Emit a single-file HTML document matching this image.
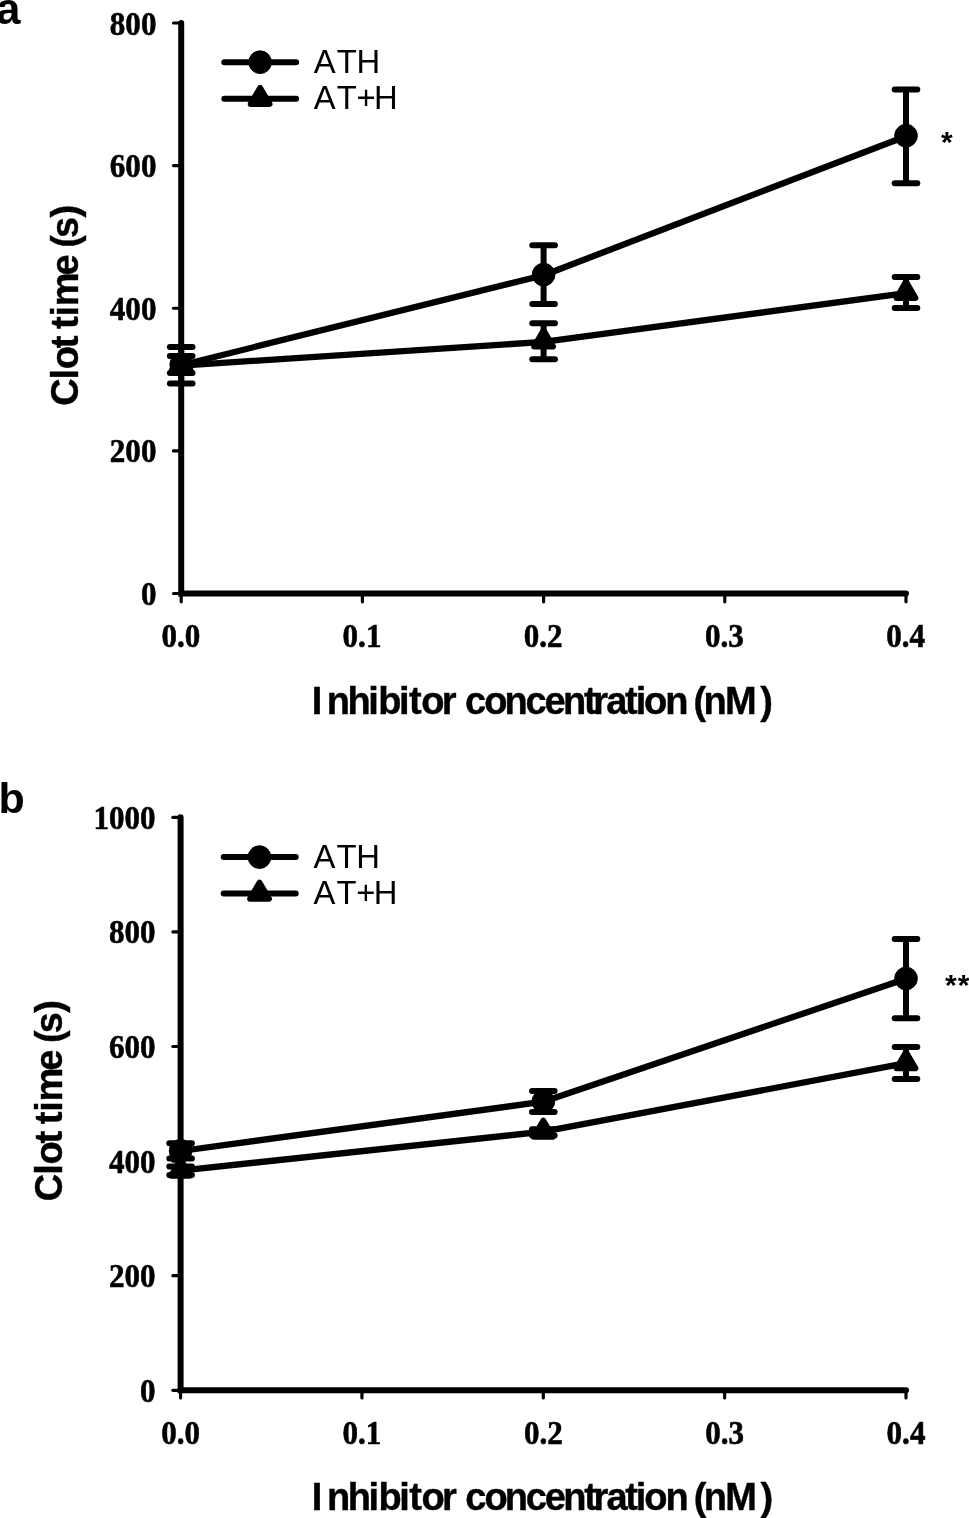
<!DOCTYPE html>
<html><head><meta charset="utf-8"><title>Clot time vs inhibitor concentration</title>
<style>
html,body{margin:0;padding:0;background:#fff;width:969px;height:1518px;overflow:hidden;}
svg{display:block;will-change:transform;}
text{fill:#000;stroke:none;font-kerning:none;}
.tk{font-family:"Liberation Serif", serif;font-weight:bold;font-size:33.2px;stroke:#000;stroke-width:0.6px;}
.lg{font-family:"Liberation Sans", sans-serif;font-size:32.8px;}
.tt{font-family:"Liberation Sans", sans-serif;font-weight:bold;font-size:38px;stroke:#000;stroke-width:0.4px;}
.pl{font-family:"Liberation Sans", sans-serif;font-weight:bold;}
.as{font-family:"Liberation Sans", sans-serif;font-weight:bold;font-size:30px;letter-spacing:1.2px;}
</style></head>
<body>
<svg width="969" height="1518" viewBox="0 0 969 1518">
<rect width="969" height="1518" fill="#fff"/>
<g fill="#000" stroke="#000">
<path d="M181.20,23.00 L181.20,593.50 L906.00,593.50" fill="none" stroke-width="6.0" stroke-linecap="round" stroke-linejoin="miter"/>
<line x1="173.50" y1="593.50" x2="181.20" y2="593.50" stroke-width="3.2" stroke-linecap="round"/>
<text class="tk" text-anchor="end" transform="translate(156.40,605.00) scale(0.935,1)">0</text>
<line x1="173.50" y1="450.90" x2="181.20" y2="450.90" stroke-width="3.2" stroke-linecap="round"/>
<text class="tk" text-anchor="end" transform="translate(156.40,462.40) scale(0.935,1)">200</text>
<line x1="173.50" y1="308.25" x2="181.20" y2="308.25" stroke-width="3.2" stroke-linecap="round"/>
<text class="tk" text-anchor="end" transform="translate(156.40,319.75) scale(0.935,1)">400</text>
<line x1="173.50" y1="165.60" x2="181.20" y2="165.60" stroke-width="3.2" stroke-linecap="round"/>
<text class="tk" text-anchor="end" transform="translate(156.40,177.10) scale(0.935,1)">600</text>
<line x1="173.50" y1="23.00" x2="181.20" y2="23.00" stroke-width="3.2" stroke-linecap="round"/>
<text class="tk" text-anchor="end" transform="translate(156.40,34.50) scale(0.935,1)">800</text>
<line x1="181.20" y1="593.50" x2="181.20" y2="601.80" stroke-width="3.2" stroke-linecap="round"/>
<text class="tk" text-anchor="middle" transform="translate(180.80,647.30) scale(0.935,1)">0.0</text>
<line x1="362.40" y1="593.50" x2="362.40" y2="601.80" stroke-width="3.2" stroke-linecap="round"/>
<text class="tk" text-anchor="middle" transform="translate(362.00,647.30) scale(0.935,1)">0.1</text>
<line x1="543.60" y1="593.50" x2="543.60" y2="601.80" stroke-width="3.2" stroke-linecap="round"/>
<text class="tk" text-anchor="middle" transform="translate(543.20,647.30) scale(0.935,1)">0.2</text>
<line x1="724.80" y1="593.50" x2="724.80" y2="601.80" stroke-width="3.2" stroke-linecap="round"/>
<text class="tk" text-anchor="middle" transform="translate(724.40,647.30) scale(0.935,1)">0.3</text>
<line x1="906.00" y1="593.50" x2="906.00" y2="601.80" stroke-width="3.2" stroke-linecap="round"/>
<text class="tk" text-anchor="middle" transform="translate(905.60,647.30) scale(0.935,1)">0.4</text>
<polyline points="181.20,365.60 543.60,341.90 906.00,293.20" fill="none" stroke-width="6.3" stroke-linejoin="round"/>
<polyline points="181.20,365.20 543.60,275.20 906.00,136.30" fill="none" stroke-width="6.3" stroke-linejoin="round"/>
<line x1="181.20" y1="356.00" x2="181.20" y2="373.10" stroke-width="6.0"/><line x1="169.90" y1="356.00" x2="192.50" y2="356.00" stroke-width="6.0" stroke-linecap="round"/><line x1="169.90" y1="373.10" x2="192.50" y2="373.10" stroke-width="6.0" stroke-linecap="round"/>
<line x1="543.60" y1="323.30" x2="543.60" y2="359.30" stroke-width="6.0"/><line x1="532.30" y1="323.30" x2="554.90" y2="323.30" stroke-width="6.0" stroke-linecap="round"/><line x1="532.30" y1="359.30" x2="554.90" y2="359.30" stroke-width="6.0" stroke-linecap="round"/>
<line x1="906.00" y1="277.10" x2="906.00" y2="308.10" stroke-width="6.0"/><line x1="894.70" y1="277.10" x2="917.30" y2="277.10" stroke-width="6.0" stroke-linecap="round"/><line x1="894.70" y1="308.10" x2="917.30" y2="308.10" stroke-width="6.0" stroke-linecap="round"/>
<line x1="181.20" y1="347.00" x2="181.20" y2="383.40" stroke-width="6.0"/><line x1="169.90" y1="347.00" x2="192.50" y2="347.00" stroke-width="6.0" stroke-linecap="round"/><line x1="169.90" y1="383.40" x2="192.50" y2="383.40" stroke-width="6.0" stroke-linecap="round"/>
<line x1="543.60" y1="245.30" x2="543.60" y2="304.10" stroke-width="6.0"/><line x1="532.30" y1="245.30" x2="554.90" y2="245.30" stroke-width="6.0" stroke-linecap="round"/><line x1="532.30" y1="304.10" x2="554.90" y2="304.10" stroke-width="6.0" stroke-linecap="round"/>
<line x1="906.00" y1="89.40" x2="906.00" y2="183.30" stroke-width="6.0"/><line x1="894.70" y1="89.40" x2="917.30" y2="89.40" stroke-width="6.0" stroke-linecap="round"/><line x1="894.70" y1="183.30" x2="917.30" y2="183.30" stroke-width="6.0" stroke-linecap="round"/>
<path d="M181.20,354.20 L190.60,370.30 L171.80,370.30 Z" stroke-width="6.0" stroke-linejoin="round"/>
<path d="M543.60,330.50 L553.00,346.60 L534.20,346.60 Z" stroke-width="6.0" stroke-linejoin="round"/>
<path d="M906.00,281.80 L915.40,297.90 L896.60,297.90 Z" stroke-width="6.0" stroke-linejoin="round"/>
<circle cx="181.20" cy="364.60" r="11.35"/>
<circle cx="543.60" cy="274.60" r="11.35"/>
<circle cx="906.00" cy="135.70" r="11.35"/>
<line x1="224.3" y1="62.2" x2="296.1" y2="62.2" stroke-width="6.0" stroke-linecap="round"/>
<circle cx="260.10" cy="62.20" r="11.35"/>
<line x1="224.3" y1="98.7" x2="296.1" y2="98.7" stroke-width="6.0" stroke-linecap="round"/>
<path d="M260.10,87.90 L269.50,104.00 L250.70,104.00 Z" stroke-width="6.0" stroke-linejoin="round"/>
<text class="lg" x="313.64 336.76 356.41" y="73.0">ATH</text>
<text class="lg" x="313.64 336.76 356.50 374.01" y="109.4">AT+H</text>
<text class="tt" x="311.66 326.80 347.45 368.25 378.20 398.95 409.04 421.32 441.70 456.70 465.02 484.22 504.60 525.52 544.62 563.00 584.04 593.20 606.19 625.04 635.65 644.12 665.20 680.20 693.51 703.60 724.96 760.36" y="714.4">Inhibitor concentration (nM)</text>
<text class="tt" transform="translate(78.3,404.6) rotate(-90)" x="-1.26 25.15 35.32 56.34 71.34 75.54 88.15 98.30 129.22 144.22 156.91 166.66 187.16" y="0">Clot time (s)</text>
<text class="pl" x="-3.9" y="23.7" font-size="44">a</text>
<text class="as" x="941" y="152.0">*</text>
<path d="M180.60,817.30 L180.60,1390.30 L906.00,1390.30" fill="none" stroke-width="6.0" stroke-linecap="round" stroke-linejoin="miter"/>
<line x1="172.90" y1="1390.30" x2="180.60" y2="1390.30" stroke-width="3.2" stroke-linecap="round"/>
<text class="tk" text-anchor="end" transform="translate(155.50,1401.80) scale(0.935,1)">0</text>
<line x1="172.90" y1="1275.70" x2="180.60" y2="1275.70" stroke-width="3.2" stroke-linecap="round"/>
<text class="tk" text-anchor="end" transform="translate(155.50,1287.20) scale(0.935,1)">200</text>
<line x1="172.90" y1="1161.10" x2="180.60" y2="1161.10" stroke-width="3.2" stroke-linecap="round"/>
<text class="tk" text-anchor="end" transform="translate(155.50,1172.60) scale(0.935,1)">400</text>
<line x1="172.90" y1="1046.50" x2="180.60" y2="1046.50" stroke-width="3.2" stroke-linecap="round"/>
<text class="tk" text-anchor="end" transform="translate(155.50,1058.00) scale(0.935,1)">600</text>
<line x1="172.90" y1="931.90" x2="180.60" y2="931.90" stroke-width="3.2" stroke-linecap="round"/>
<text class="tk" text-anchor="end" transform="translate(155.50,943.40) scale(0.935,1)">800</text>
<line x1="172.90" y1="817.30" x2="180.60" y2="817.30" stroke-width="3.2" stroke-linecap="round"/>
<text class="tk" text-anchor="end" transform="translate(155.50,828.80) scale(0.935,1)">1000</text>
<line x1="180.60" y1="1390.30" x2="180.60" y2="1398.00" stroke-width="3.2" stroke-linecap="round"/>
<text class="tk" text-anchor="middle" transform="translate(180.60,1444.40) scale(0.935,1)">0.0</text>
<line x1="361.95" y1="1390.30" x2="361.95" y2="1398.00" stroke-width="3.2" stroke-linecap="round"/>
<text class="tk" text-anchor="middle" transform="translate(361.95,1444.40) scale(0.935,1)">0.1</text>
<line x1="543.30" y1="1390.30" x2="543.30" y2="1398.00" stroke-width="3.2" stroke-linecap="round"/>
<text class="tk" text-anchor="middle" transform="translate(543.30,1444.40) scale(0.935,1)">0.2</text>
<line x1="724.65" y1="1390.30" x2="724.65" y2="1398.00" stroke-width="3.2" stroke-linecap="round"/>
<text class="tk" text-anchor="middle" transform="translate(724.65,1444.40) scale(0.935,1)">0.3</text>
<line x1="906.00" y1="1390.30" x2="906.00" y2="1398.00" stroke-width="3.2" stroke-linecap="round"/>
<text class="tk" text-anchor="middle" transform="translate(906.00,1444.40) scale(0.935,1)">0.4</text>
<polyline points="180.60,1170.60 543.30,1131.70 906.00,1063.20" fill="none" stroke-width="6.3" stroke-linejoin="round"/>
<polyline points="180.60,1151.00 543.30,1101.70 906.00,978.70" fill="none" stroke-width="6.3" stroke-linejoin="round"/>
<line x1="180.60" y1="1166.50" x2="180.60" y2="1175.00" stroke-width="6.0"/><line x1="169.30" y1="1166.50" x2="191.90" y2="1166.50" stroke-width="6.0" stroke-linecap="round"/><line x1="169.30" y1="1175.00" x2="191.90" y2="1175.00" stroke-width="6.0" stroke-linecap="round"/>
<line x1="543.30" y1="1129.30" x2="543.30" y2="1135.50" stroke-width="6.0"/><line x1="532.00" y1="1129.30" x2="554.60" y2="1129.30" stroke-width="6.0" stroke-linecap="round"/><line x1="532.00" y1="1135.50" x2="554.60" y2="1135.50" stroke-width="6.0" stroke-linecap="round"/>
<line x1="906.00" y1="1047.10" x2="906.00" y2="1079.10" stroke-width="6.0"/><line x1="894.70" y1="1047.10" x2="917.30" y2="1047.10" stroke-width="6.0" stroke-linecap="round"/><line x1="894.70" y1="1079.10" x2="917.30" y2="1079.10" stroke-width="6.0" stroke-linecap="round"/>
<line x1="180.60" y1="1143.20" x2="180.60" y2="1158.50" stroke-width="6.0"/><line x1="169.30" y1="1143.20" x2="191.90" y2="1143.20" stroke-width="6.0" stroke-linecap="round"/><line x1="169.30" y1="1158.50" x2="191.90" y2="1158.50" stroke-width="6.0" stroke-linecap="round"/>
<line x1="543.30" y1="1091.00" x2="543.30" y2="1111.90" stroke-width="6.0"/><line x1="532.00" y1="1091.00" x2="554.60" y2="1091.00" stroke-width="6.0" stroke-linecap="round"/><line x1="532.00" y1="1111.90" x2="554.60" y2="1111.90" stroke-width="6.0" stroke-linecap="round"/>
<line x1="906.00" y1="938.90" x2="906.00" y2="1018.20" stroke-width="6.0"/><line x1="894.70" y1="938.90" x2="917.30" y2="938.90" stroke-width="6.0" stroke-linecap="round"/><line x1="894.70" y1="1018.20" x2="917.30" y2="1018.20" stroke-width="6.0" stroke-linecap="round"/>
<path d="M180.60,1159.60 L190.00,1175.70 L171.20,1175.70 Z" stroke-width="6.0" stroke-linejoin="round"/>
<path d="M543.30,1120.70 L552.70,1136.80 L533.90,1136.80 Z" stroke-width="6.0" stroke-linejoin="round"/>
<path d="M906.00,1052.20 L915.40,1068.30 L896.60,1068.30 Z" stroke-width="6.0" stroke-linejoin="round"/>
<circle cx="180.60" cy="1150.80" r="11.35"/>
<circle cx="543.30" cy="1101.50" r="11.35"/>
<circle cx="906.00" cy="978.50" r="11.35"/>
<line x1="223.7" y1="857.1" x2="295.7" y2="857.1" stroke-width="6.0" stroke-linecap="round"/>
<circle cx="259.50" cy="857.10" r="11.35"/>
<line x1="223.7" y1="893.5" x2="295.7" y2="893.5" stroke-width="6.0" stroke-linecap="round"/>
<path d="M259.50,882.70 L268.90,898.80 L250.10,898.80 Z" stroke-width="6.0" stroke-linejoin="round"/>
<text class="lg" x="313.44 336.56 356.21" y="868.0">ATH</text>
<text class="lg" x="313.44 336.56 356.30 373.81" y="903.6">AT+H</text>
<text class="tt" x="311.86 327.00 347.65 368.45 378.40 399.15 409.24 421.52 441.90 456.90 465.22 484.42 504.80 525.72 544.82 563.20 584.24 593.40 606.39 625.24 635.85 644.32 665.40 680.40 693.71 703.80 725.16 760.56" y="1510.4">Inhibitor concentration (nM)</text>
<text class="tt" transform="translate(61.7,1199.9) rotate(-90)" x="-1.26 25.15 35.32 56.34 71.34 75.54 88.15 98.30 129.22 144.22 156.91 166.66 187.16" y="0">Clot time (s)</text>
<text class="pl" x="-1.4" y="813.1" font-size="43">b</text>
<text class="as" x="944.9" y="995.0">**</text>
</g>
</svg>
</body></html>
